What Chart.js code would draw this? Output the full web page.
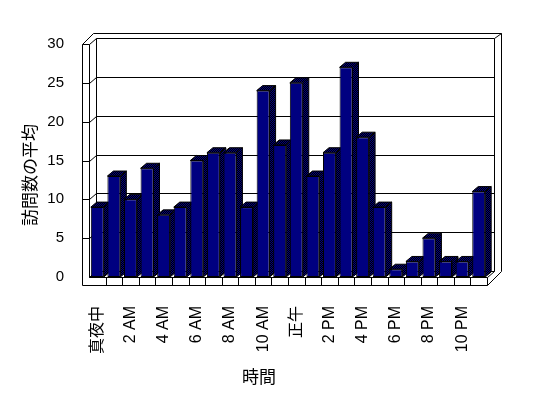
<!DOCTYPE html>
<html>
<head>
<meta charset="utf-8">
<script src="https://cdn.jsdelivr.net/npm/chart.js@4/dist/chart.umd.min.js"></script>
<style>
  html, body { margin: 0; padding: 0; background: #ffffff; }
  #wrap { width: 548px; height: 398px; position: relative; }
</style>
</head>
<body>
<div id="wrap"><canvas id="chart"></canvas></div>
<script>
// hour labels (every other one is shown on the axis)
const hourLabels = [
  '真夜中', '1 AM', '2 AM', '3 AM', '4 AM', '5 AM', '6 AM', '7 AM', '8 AM', '9 AM', '10 AM', '11 AM',
  '正午', '1 PM', '2 PM', '3 PM', '4 PM', '5 PM', '6 PM', '7 PM', '8 PM', '9 PM', '10 PM', '11 PM'
];
// average visits per hour
const avgVisits = [9, 13, 10, 14, 8, 9, 15, 16, 16, 9, 24, 17, 25, 13, 16, 27, 18, 9, 1, 2, 5, 2, 2, 11];
const yTicks = [0, 5, 10, 15, 20, 25, 30];
const yTitle = '訪問数の平均';
const xTitle = '時間';

const NAVY = '#000080';
const FONT = "'Liberation Sans', 'Noto Sans CJK JP', sans-serif";
const CJK_FONT = "'Noto Sans CJK JP', sans-serif";

// wall / bar depth offsets
const WALL_DX = 7, WALL_DY = -6, SLAB = 7;
const BAR_DX = 6, BAR_DY = -5;

function ditherPattern(ctx) {
  const c = document.createElement('canvas');
  c.width = 2; c.height = 2;
  const p = c.getContext('2d');
  p.fillStyle = '#000000';
  p.fillRect(0, 0, 2, 2);
  p.fillStyle = NAVY;
  p.fillRect(0, 0, 1, 1);
  p.fillRect(1, 1, 1, 1);
  return ctx.createPattern(c, 'repeat');
}

function line(ctx, x1, y1, x2, y2) {
  ctx.beginPath();
  ctx.moveTo(Math.round(x1) + 0.5, Math.round(y1) + 0.5);
  ctx.lineTo(Math.round(x2) + 0.5, Math.round(y2) + 0.5);
  ctx.stroke();
}

// draws the 3D box (walls, floor, gridlines) and the bar depth
const box3d = {
  id: 'box3d',
  beforeDatasetsDraw(chart) {
    const { ctx, chartArea: ca, scales } = chart;
    const y = scales.y, x = scales.x;
    const L = ca.left, R = ca.right, T = ca.top, B = ca.bottom;
    ctx.save();
    ctx.strokeStyle = '#000000';
    ctx.lineWidth = 1;

    // outer outline of the walls
    line(ctx, L - SLAB, B + 8, L - SLAB, T);
    line(ctx, L - SLAB, T, L + 4, T - 11);
    line(ctx, L + 4, T - 11, R + WALL_DX + SLAB, T - 11);
    line(ctx, R + WALL_DX + SLAB, T - 11, R + WALL_DX + SLAB, B + WALL_DY);
    line(ctx, R + WALL_DX + SLAB, B + WALL_DY, R, B + 8);
    line(ctx, R, B + 8, L - SLAB, B + 8);

    // inner edges
    line(ctx, L, B, L, T);
    line(ctx, L + WALL_DX, B + WALL_DY, L + WALL_DX, T + WALL_DY);
    line(ctx, L + WALL_DX, T + WALL_DY, R + WALL_DX, T + WALL_DY);
    line(ctx, R + WALL_DX, T + WALL_DY, R + WALL_DX, B + WALL_DY);
    line(ctx, R + WALL_DX, T + WALL_DY, R + WALL_DX + SLAB, T - 11);
    line(ctx, R + WALL_DX, B + WALL_DY, R, B);
    line(ctx, L + WALL_DX, B + WALL_DY, R + WALL_DX, B + WALL_DY);
    line(ctx, L, B, L + WALL_DX, B + WALL_DY);
    line(ctx, L, B, R, B);
    line(ctx, R, B, R, B + 8);

    // value ticks and gridlines
    yTicks.forEach(v => {
      const yf = y.getPixelForValue(v);
      if (v > 0) line(ctx, L - SLAB, yf, L, yf);
      line(ctx, L, yf, L + WALL_DX, yf + WALL_DY);
      if (v > 0 && v < 30) line(ctx, L + WALL_DX, yf + WALL_DY, R + WALL_DX, yf + WALL_DY);
    });

    // category dividers on the floor front
    const step = (R - L) / hourLabels.length;
    for (let i = 1; i < hourLabels.length; i++) {
      line(ctx, L + step * i, B, L + step * i, B + 8);
    }

    // bar depth: top and right side
    const pat = ditherPattern(ctx);
    const meta = chart.getDatasetMeta(0);
    meta.data.forEach(bar => {
      const l = bar.x - bar.width / 2, r = bar.x + bar.width / 2;
      const top = bar.y, base = bar.base;
      ctx.fillStyle = pat;
      ctx.beginPath();
      ctx.moveTo(r, top);
      ctx.lineTo(r + BAR_DX, top + BAR_DY);
      ctx.lineTo(r + BAR_DX, base + BAR_DY);
      ctx.lineTo(r, base);
      ctx.closePath();
      ctx.fill();
      ctx.stroke();
      ctx.beginPath();
      ctx.moveTo(l, top);
      ctx.lineTo(l + BAR_DX, top + BAR_DY);
      ctx.lineTo(r + BAR_DX, top + BAR_DY);
      ctx.lineTo(r, top);
      ctx.closePath();
      ctx.fill();
      ctx.stroke();
    });
    ctx.restore();
  },
  afterDraw(chart) {
    const { ctx } = chart;
    ctx.save();
    ctx.fillStyle = '#000000';
    ctx.font = '17px ' + CJK_FONT;
    ctx.textAlign = 'center';
    ctx.textBaseline = 'middle';
    ctx.fillText(xTitle, 259, 377);
    ctx.translate(30, 175);
    ctx.rotate(-Math.PI / 2);
    ctx.fillText(yTitle, 0, 0);
    ctx.restore();
  }
};

new Chart(document.getElementById('chart'), {
  type: 'bar',
  data: {
    labels: hourLabels,
    datasets: [{
      label: yTitle,
      data: avgVisits,
      backgroundColor: NAVY,
      borderColor: '#000000',
      borderWidth: 1,
      borderSkipped: false,
      barPercentage: 0.78,
      categoryPercentage: 1.0
    }]
  },
  options: {
    responsive: true,
    maintainAspectRatio: false,
    animation: false,
    layout: { padding: { top: 44, right: 61, bottom: 0, left: 0 } },
    plugins: {
      legend: { display: false },
      tooltip: { enabled: false }
    },
    scales: {
      x: {
        grid: { display: false },
        border: { display: false },
        ticks: {
          autoSkip: false,
          minRotation: 90,
          maxRotation: 90,
          padding: 21,
          color: '#000000',
          font: { family: FONT, size: 16 },
          callback: (value, index) => index % 2 === 0 ? hourLabels[index] : ''
        },
        afterFit: (scale) => { scale.height = 121; }
      },
      y: {
        min: 0,
        max: 30,
        grid: { display: false },
        border: { display: false },
        ticks: {
          stepSize: 5,
          padding: 17,
          color: '#000000',
          font: { family: FONT, size: 15 }
        },
        afterFit: (scale) => { scale.width = 89; }
      }
    }
  },
  plugins: [box3d]
});
</script>
</body>
</html>
